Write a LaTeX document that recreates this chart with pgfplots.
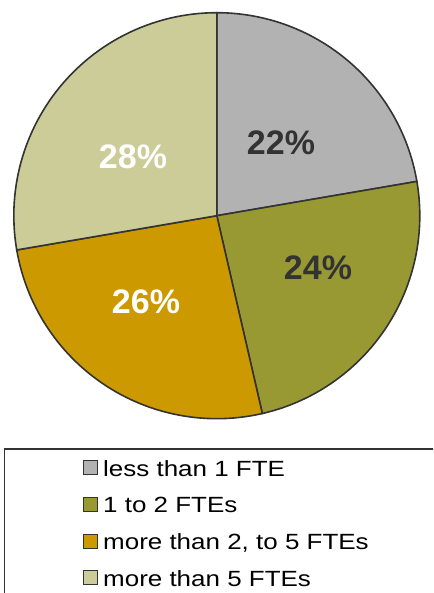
\documentclass[border=0pt]{standalone}
\usepackage{pgfplots}
\pgfplotsset{compat=1.18}
\usepackage{fontspec}
\setmainfont{Liberation Sans}
\definecolor{sgrey}{HTML}{B2B2B2}
\definecolor{solive}{HTML}{999933}
\definecolor{sgold}{HTML}{CC9900}
\definecolor{spale}{HTML}{CCCC99}
\definecolor{sdark}{HTML}{333333}
% pie centre (px coords, y up) and radius
\newcommand\cx{216.8}
\newcommand\cy{377.3}
\newcommand\rr{203}
\begin{document}
\begin{tikzpicture}
\begin{axis}[
  x=1pt, y=1pt,
  xmin=0, xmax=433, ymin=0, ymax=593,
  hide axis, clip=true,
  legend cell align=left,
  legend image code/.code={\draw[#1, line width=1pt, draw=sdark] (0pt,-6pt) rectangle (14pt,8pt);},
  legend style={at={(axis cs:80,136)}, anchor=north west, draw=none, fill=none,
    font=\fontsize{22}{24}\selectfont, row sep=17.4pt,
    nodes={inner xsep=5pt, inner ysep=1pt}},
]
% values (percent): 22.3, 24.1, 25.9, 27.7 ; drawn clockwise from 12 o'clock
\addplot[fill=sgrey, draw=sdark, line width=1.6pt, domain={90-3.6*22.3}:{90}, samples=60, variable=\t]
  ({\cx+\rr*cos(\t)},{\cy+\rr*sin(\t)}) -- (axis cs:\cx,\cy) -- cycle;
\addlegendentry{\scalebox{1.18}[1]{less than 1 FTE}}
\addplot[fill=solive, draw=sdark, line width=1.6pt, domain={90-3.6*46.4}:{90-3.6*22.3}, samples=60, variable=\t]
  ({\cx+\rr*cos(\t)},{\cy+\rr*sin(\t)}) -- (axis cs:\cx,\cy) -- cycle;
\addlegendentry{\scalebox{1.18}[1]{1 to 2 FTEs}}
\addplot[fill=sgold, draw=sdark, line width=1.6pt, domain={90-3.6*72.3}:{90-3.6*46.4}, samples=60, variable=\t]
  ({\cx+\rr*cos(\t)},{\cy+\rr*sin(\t)}) -- (axis cs:\cx,\cy) -- cycle;
\addlegendentry{\scalebox{1.18}[1]{more than 2, to 5 FTEs}}
\addplot[fill=spale, draw=sdark, line width=1.6pt, domain={90-3.6*100}:{90-3.6*72.3}, samples=60, variable=\t]
  ({\cx+\rr*cos(\t)},{\cy+\rr*sin(\t)}) -- (axis cs:\cx,\cy) -- cycle;
\addlegendentry{\scalebox{1.18}[1]{more than 5 FTEs}}
% slice labels
\node[font=\fontsize{34}{36}\selectfont\bfseries, text=sdark] at (axis cs:281,450) {22\%};
\node[font=\fontsize{34}{36}\selectfont\bfseries, text=sdark] at (axis cs:318,325) {24\%};
\node[font=\fontsize{34}{36}\selectfont\bfseries, text=white] at (axis cs:146,291) {26\%};
\node[font=\fontsize{34}{36}\selectfont\bfseries, text=white] at (axis cs:133,436) {28\%};
% legend frame (cut off at right and bottom, as in the reference)
\draw[line width=1.6pt, draw=sdark] (axis cs:4.5,-20) rectangle (axis cs:470,143.7);
\end{axis}
\pgfresetboundingbox
\path (current axis.south west) rectangle (current axis.north east);
\end{tikzpicture}
\end{document}
